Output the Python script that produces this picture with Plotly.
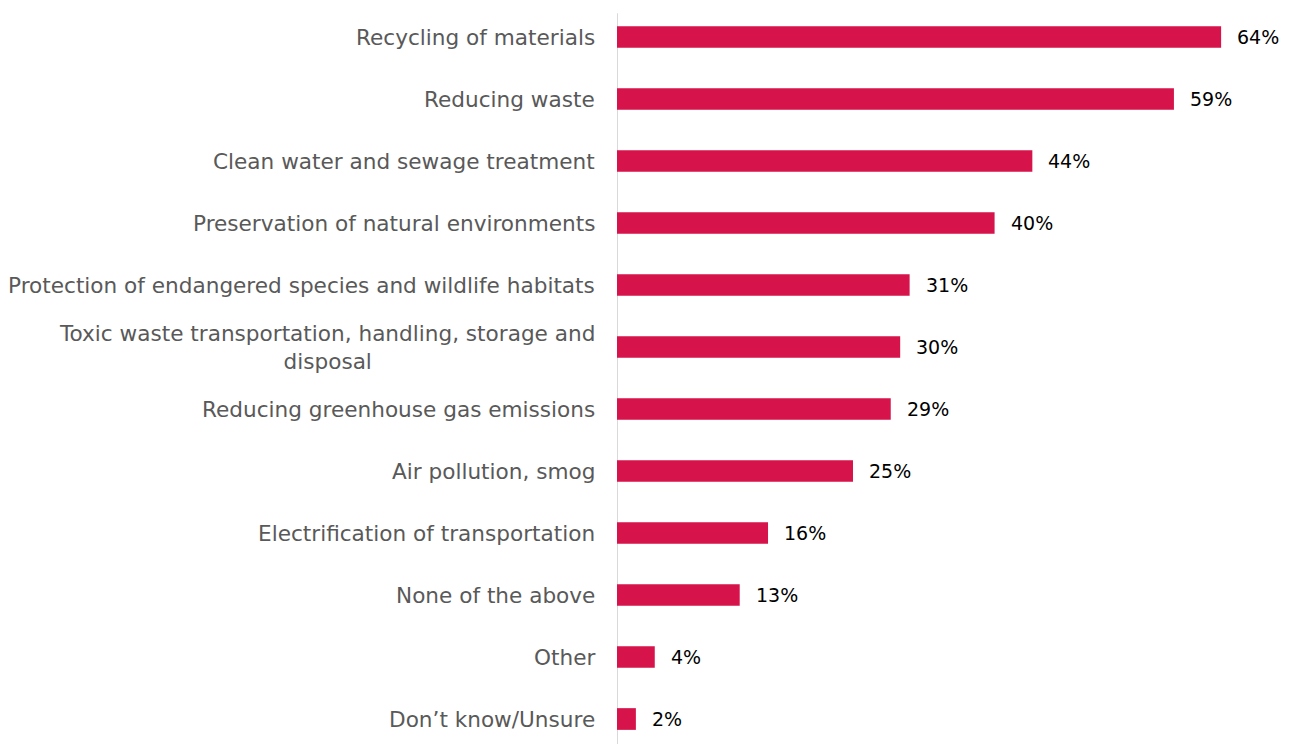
import plotly.graph_objects as go

categories = [
    "Recycling of materials",
    "Reducing waste",
    "Clean water and sewage treatment",
    "Preservation of natural environments",
    "Protection of endangered species and wildlife habitats",
    "Toxic waste transportation, handling, storage and<br>disposal",
    "Reducing greenhouse gas emissions",
    "Air pollution, smog",
    "Electrification of transportation",
    "None of the above",
    "Other",
    "Don\u2019t know/Unsure",
]
values = [64, 59, 44, 40, 31, 30, 29, 25, 16, 13, 4, 2]
value_labels = [f"{v}%" for v in values]

bar_color = "#D6134A"
font_family = "DejaVu Sans, sans-serif"

ypos = list(range(len(categories)))

fig = go.Figure()
fig.add_trace(go.Bar(
    x=values, y=ypos, orientation="h",
    marker=dict(color=bar_color, line=dict(width=0)),
    width=0.35, hoverinfo="skip",
))

annotations = []
for i, (cat, v, lab) in enumerate(zip(categories, values, value_labels)):
    annotations.append(dict(
        x=0, y=i, xref="x", yref="y", text=cat, showarrow=False,
        xanchor="right", yanchor="middle", xshift=-20, align="center",
        font=dict(family=font_family, size=21.6, color="#595959"),
    ))
    annotations.append(dict(
        x=v, y=i, xref="x", yref="y", text=lab, showarrow=False,
        xanchor="left", yanchor="middle", xshift=14,
        font=dict(family=font_family, size=19, color="#000000"),
    ))

fig.update_layout(
    width=1291, height=744,
    margin=dict(l=609, r=0, t=0, b=0),
    paper_bgcolor="white", plot_bgcolor="white",
    showlegend=False,
    xaxis=dict(range=[0, 72.25], visible=False, fixedrange=True),
    yaxis=dict(range=[11.532, -0.4677], showticklabels=False, showgrid=False,
               zeroline=False, showline=False, fixedrange=True),
    annotations=annotations,
    shapes=[dict(type="line", xref="x", yref="paper", x0=0, x1=0, y0=0, y1=0.993,
                 line=dict(color="#D9D9D9", width=2), layer="below")],
)

fig.write_html("out.html")
